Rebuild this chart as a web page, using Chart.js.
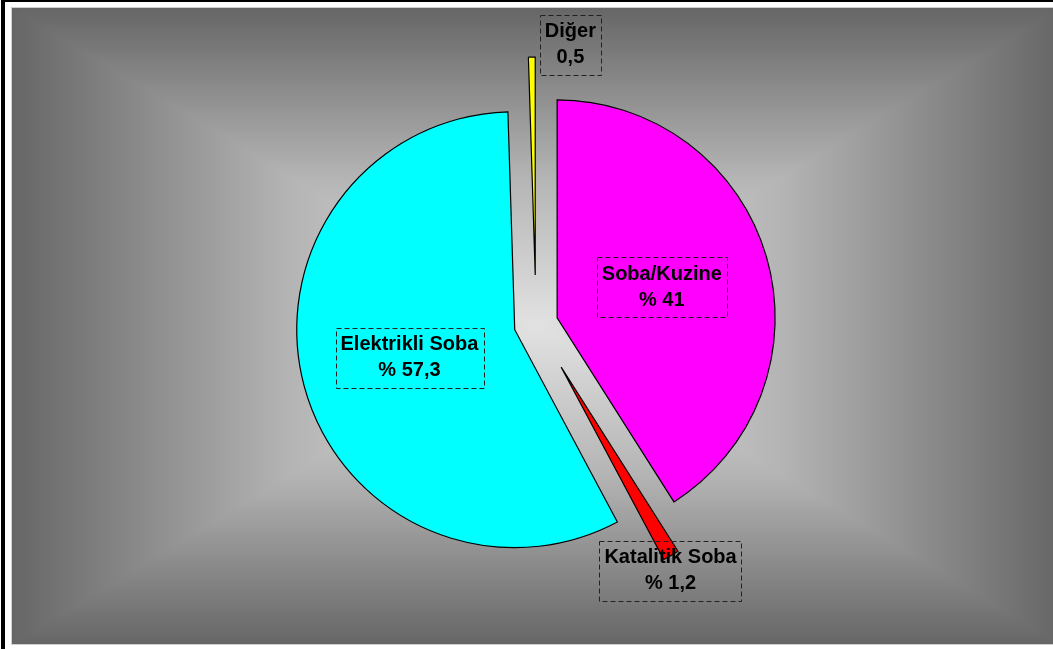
<!DOCTYPE html>
<html>
<head>
<meta charset="utf-8">
<script src="https://cdn.jsdelivr.net/npm/chart.js@4/dist/chart.umd.min.js"></script>
<style>
html, body { margin: 0; padding: 0; background: #fff; overflow: hidden; }
#wrap { position: relative; width: 1053px; height: 649px; }
</style>
</head>
<body>
<div id="wrap"><canvas id="pieChart"></canvas></div>
<script>
// Données du graphique
const categories = ['Soba/Kuzine', 'Katalitik Soba', 'Elektrikli Soba', 'Diğer'];
const values = [41, 1.2, 57.3, 0.5];
const valueLabels = ['% 41', '% 1,2', '% 57,3', '0,5'];

const PIE_RADIUS = 218;
const LABEL_FONT = 'bold 20px "Liberation Sans", Arial, sans-serif';

// Fond dégradé rectangulaire (clair au centre, sombre aux bords)
const backgroundPlugin = {
    id: 'background',
    beforeDraw(chart) {
        const { ctx, width, height } = chart;
        const L = 12, T = 8, R = 1060, B = 644;
        const stops = [[0, '#666666'], [0.265, '#b4b4b4'], [0.5, '#e2e2e2'], [0.735, '#b4b4b4'], [1, '#666666']];
        const cx = (L + R) / 2, cy = (T + B) / 2;
        ctx.save();
        ctx.fillStyle = '#ffffff';
        ctx.fillRect(0, 0, width, height);
        ctx.fillStyle = '#000000';
        ctx.fillRect(1, 0, 4, height);
        ctx.fillRect(1, 0, width, 2);

        ctx.beginPath();
        ctx.rect(L, T, width - L, B - T);
        ctx.clip();
        const gv = ctx.createLinearGradient(0, T, 0, B);
        stops.forEach(s => gv.addColorStop(s[0], s[1]));
        ctx.fillStyle = gv;
        ctx.fillRect(L, T, R - L, B - T);

        const gh = ctx.createLinearGradient(L, 0, R, 0);
        stops.forEach(s => gh.addColorStop(s[0], s[1]));
        ctx.beginPath();
        ctx.moveTo(cx, cy); ctx.lineTo(L, T); ctx.lineTo(L, B); ctx.closePath();
        ctx.moveTo(cx, cy); ctx.lineTo(R, T); ctx.lineTo(R, B); ctx.closePath();
        ctx.fillStyle = gh;
        ctx.fill();
        ctx.restore();

        ctx.save();
        ctx.strokeStyle = '#d0d0d0';
        ctx.lineWidth = 1;
        ctx.strokeRect(L - 0.5, T - 0.5, width + 10, B - T + 1);
        ctx.restore();
    }
};

// Garder le même rayon et la même ouverture pour toutes les parts éclatées
const radiusPlugin = {
    id: 'radiusFix',
    afterDatasetsUpdate(chart) {
        chart.getDatasetMeta(0).data.forEach(arc => {
            const off = (arc.options.offset || 0) / 4;
            const fix = 1 - Math.sin(Math.min(Math.PI, arc.circumference));
            const radiusOffset = off * fix;
            arc.outerRadius = PIE_RADIUS - radiusOffset;
            // Chart.js rétrécit l'arc de offset/PI pixels : compenser
            const extra = radiusOffset / Math.PI / PIE_RADIUS;
            arc.startAngle -= extra / 2;
            arc.endAngle += extra / 2;
        });
    }
};

// Étiquettes dans des cadres pointillés
const labelPlugin = {
    id: 'sliceLabels',
    afterDatasetsDraw(chart) {
        const { ctx } = chart;
        const total = values.reduce((a, b) => a + b, 0);
        ctx.save();
        ctx.font = LABEL_FONT;
        ctx.textAlign = 'center';
        ctx.textBaseline = 'middle';
        chart.getDatasetMeta(0).data.forEach((arc, i) => {
            const mid = (arc.startAngle + arc.endAngle) / 2;
            const shift = (arc.options.offset || 0) / 4;
            const vx = arc.x + Math.cos(mid) * shift;
            const vy = arc.y + Math.sin(mid) * shift;
            const lines = [categories[i], valueLabels[i]];
            const w = Math.max(...lines.map(t => ctx.measureText(t).width)) + 10;
            const h = 60;
            const inside = values[i] / total > 0.1;
            let lx, ly;
            if (inside) {
                lx = vx + Math.cos(mid) * PIE_RADIUS * 0.5;
                ly = vy + Math.sin(mid) * PIE_RADIUS * 0.5;
            } else {
                lx = vx + Math.cos(mid) * PIE_RADIUS * 1.06;
                ly = vy + Math.sin(mid) * PIE_RADIUS * 1.06;
                if (Math.abs(Math.cos(mid)) < 0.2) {
                    // part presque verticale : décaler le cadre à droite
                    lx = vx + Math.cos(mid) * PIE_RADIUS + w / 2 + 8;
                    ly += 1;
                } else {
                    lx -= 7; ly += 4;
                }
            }
            const bx = Math.round(lx - w / 2) + 0.5;
            const by = Math.round(ly - h / 2) + 0.5;
            ctx.setLineDash([5, 3]);
            ctx.strokeStyle = '#222222';
            ctx.lineWidth = 1;
            ctx.strokeRect(bx, by, Math.round(w), h);
            ctx.setLineDash([]);
            ctx.fillStyle = '#000000';
            ctx.fillText(lines[0], lx, ly - 13);
            ctx.fillText(lines[1], lx, ly + 13);
        });
        ctx.restore();
    }
};

function initPieChart() {
    const el = document.getElementById('pieChart');
    if (!el) return;
    new Chart(el, {
        type: 'pie',
        data: {
            labels: categories,
            datasets: [{
                data: values,
                backgroundColor: ['#ff00ff', '#ff0000', '#00ffff', '#ffff00'],
                borderColor: '#000000',
                borderWidth: 1.2,
                borderJoinStyle: 'miter',
                offset: [88, 200, 88, 196]
            }]
        },
        options: {
            responsive: true,
            maintainAspectRatio: false,
            animation: false,
            events: [],
            radius: PIE_RADIUS,
            layout: { padding: { left: 19, top: 0, right: 0, bottom: 1 } },
            plugins: {
                legend: { display: false },
                tooltip: { enabled: false }
            }
        },
        plugins: [backgroundPlugin, radiusPlugin, labelPlugin]
    });
}

document.addEventListener('DOMContentLoaded', initPieChart);
</script>
</body>
</html>
